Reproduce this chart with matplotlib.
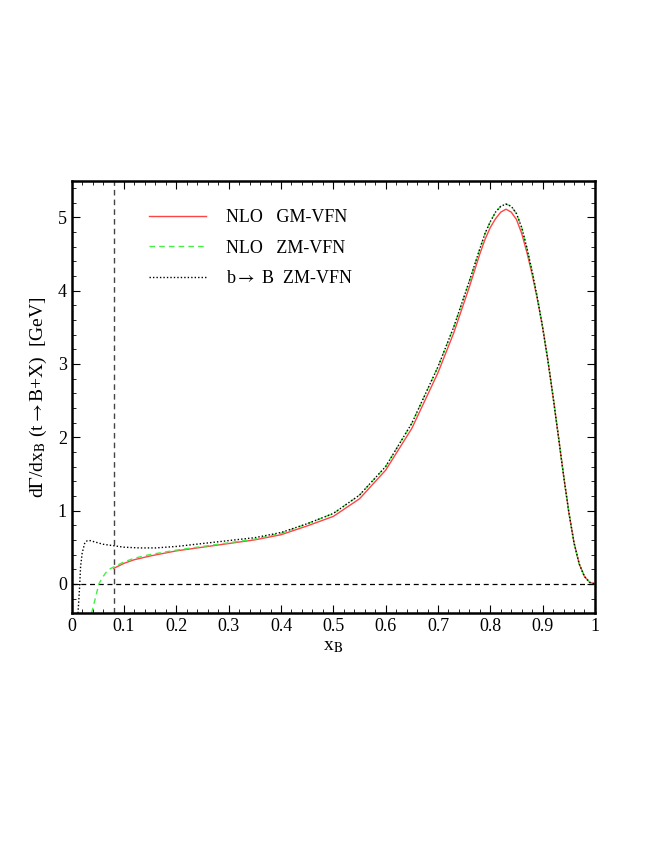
import matplotlib
matplotlib.use('Agg')
import matplotlib.pyplot as plt
from matplotlib.ticker import MultipleLocator, FixedLocator

plt.rcParams['font.family'] = ['Liberation Serif', 'DejaVu Serif']
plt.rcParams['mathtext.fontset'] = 'stix'

# shared falling edge (all three curves coincide beyond x ~ 0.9)
x_tail = [0.90, 0.91, 0.92, 0.93, 0.94, 0.95, 0.96, 0.97, 0.98, 0.99, 1.00]
y_tail = [3.50, 3.05, 2.55, 2.02, 1.48, 0.98, 0.56, 0.27, 0.10, 0.02, 0.00]

# GM-VFN (NLO), red solid
x_gm = [0.08, 0.10, 0.12, 0.15, 0.20, 0.25, 0.30, 0.35, 0.40, 0.45, 0.50, 0.55,
        0.60, 0.65, 0.70, 0.73, 0.76, 0.78, 0.79, 0.80, 0.81, 0.82, 0.83, 0.84,
        0.85, 0.86, 0.87, 0.88, 0.89] + x_tail
y_gm = [0.21, 0.28, 0.33, 0.38, 0.45, 0.50, 0.55, 0.60, 0.67, 0.79, 0.92, 1.16,
        1.55, 2.12, 2.88, 3.42, 4.05, 4.50, 4.70, 4.86, 4.98, 5.07, 5.11, 5.07,
        4.97, 4.78, 4.52, 4.22, 3.88] + y_tail

# ZM-VFN (NLO), green dashed
x_zm = [0.038, 0.045, 0.052, 0.060, 0.066, 0.072, 0.08, 0.10, 0.12, 0.15, 0.20,
        0.25, 0.30, 0.35, 0.40, 0.45, 0.50, 0.55, 0.60, 0.65, 0.70, 0.73, 0.76,
        0.78, 0.79, 0.80, 0.81, 0.82, 0.83, 0.84, 0.85, 0.86, 0.87, 0.88, 0.89] + x_tail
y_zm = [-0.40, -0.20, 0.00, 0.10, 0.16, 0.20, 0.23, 0.30, 0.35, 0.40, 0.46,
        0.51, 0.56, 0.61, 0.69, 0.82, 0.96, 1.21, 1.60, 2.19, 2.96, 3.50, 4.13,
        4.57, 4.78, 4.94, 5.07, 5.15, 5.18, 5.15, 5.05, 4.86, 4.58, 4.26, 3.90] + y_tail

# b -> B ZM-VFN, black dotted
x_bb = [0.012, 0.015, 0.017, 0.020, 0.025, 0.030, 0.035, 0.045, 0.060, 0.08,
        0.10, 0.13, 0.16, 0.20, 0.25, 0.30, 0.35, 0.40, 0.45, 0.50, 0.55, 0.60,
        0.65, 0.70, 0.73, 0.76, 0.78, 0.79, 0.80, 0.81, 0.82, 0.83, 0.84, 0.85,
        0.86, 0.87, 0.88, 0.89] + x_tail
y_bb = [-0.40, -0.05, 0.24, 0.42, 0.56, 0.59, 0.59, 0.57, 0.54, 0.52,
        0.50, 0.49, 0.49, 0.51, 0.55, 0.59, 0.63, 0.70, 0.82, 0.96, 1.21, 1.60,
        2.19, 2.96, 3.50, 4.13, 4.57, 4.78, 4.94, 5.07, 5.15, 5.18, 5.15, 5.05,
        4.86, 4.58, 4.26, 3.90] + y_tail

x_cut = 0.08

fig = plt.figure(figsize=(6.64, 8.6), dpi=100)
ax = fig.add_axes([0.108, 0.287, 0.788, 0.503])

ax.axhline(0, color='black', linestyle=(0, (4, 3)), linewidth=0.9)
ax.axvline(x_cut, color='#444444', linestyle=(0, (4, 3)), linewidth=1.0)

ax.plot(x_gm, y_gm, color='#ff4444', linewidth=1.0, label='NLO   GM-VFN')
ax.plot(x_zm, y_zm, color='#44ee44', linestyle=(0, (4, 3)), linewidth=1.0,
        label='NLO   ZM-VFN')
ax.plot(x_bb, y_bb, color='black', linestyle=(0, (1, 1.5)), linewidth=1.0,
        label=r'b$\rightarrow$ B  ZM-VFN')

ax.set_xlim(0, 1)
ax.set_ylim(-0.4, 5.5)
ax.xaxis.set_major_locator(FixedLocator([0, 0.1, 0.2, 0.3, 0.4, 0.5, 0.6, 0.7, 0.8, 0.9, 1.0]))
ax.xaxis.set_minor_locator(MultipleLocator(0.02))
ax.set_xticklabels(['0', '0.1', '0.2', '0.3', '0.4', '0.5', '0.6', '0.7', '0.8', '0.9', '1'])
ax.yaxis.set_major_locator(FixedLocator([0, 1, 2, 3, 4, 5]))
ax.yaxis.set_minor_locator(MultipleLocator(0.2))
ax.tick_params(which='both', direction='in', top=True, right=True, labelsize=13)
ax.tick_params(which='major', length=6, width=0.8)
ax.tick_params(which='minor', length=3, width=0.6)
for s in ax.spines.values():
    s.set_linewidth(1.8)

ax.set_xlabel(r'x$_{\rm B}$', fontsize=14, labelpad=2)
ax.set_ylabel(r'd$\Gamma$/dx$_{\rm B}$ (t$\rightarrow$B+X)  [GeV]', fontsize=14, labelpad=6)

ax.legend(loc='upper left', bbox_to_anchor=(0.13, 0.955), frameon=False, fontsize=13,
          handlelength=3.15, handletextpad=1.15, labelspacing=0.75, borderpad=0)

plt.savefig('out.png', dpi=100)
